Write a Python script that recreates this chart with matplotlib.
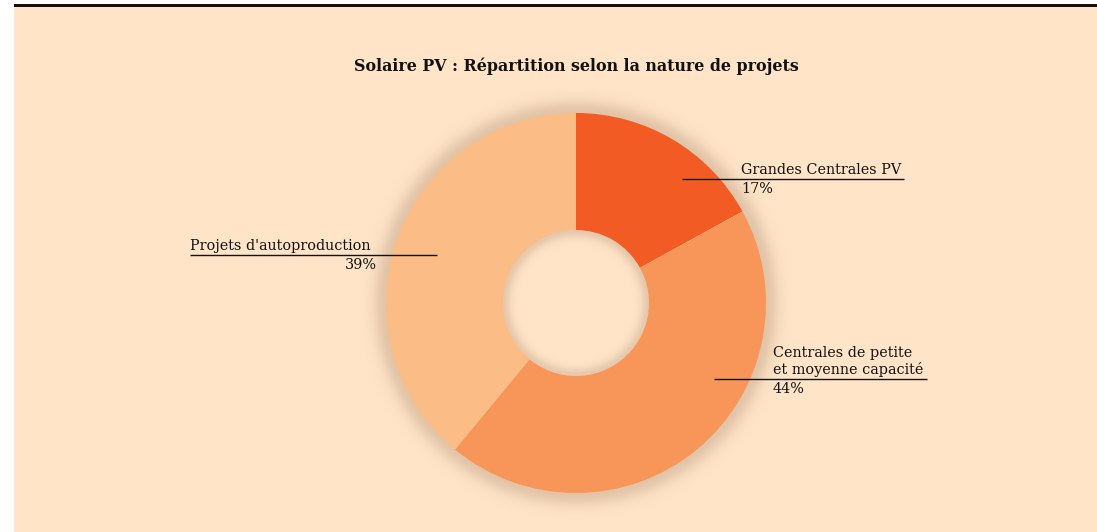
import numpy as np
import matplotlib
matplotlib.use("Agg")
import matplotlib.pyplot as plt
from matplotlib.patches import Rectangle

# ---- data ----
categories = ["Grandes Centrales PV", "Centrales de petite\net moyenne capacité", "Projets d'autoproduction"]
shares = [17, 44, 39]
pct_labels = ["17%", "44%", "39%"]
colors = ["#F25C24", "#F8965A", "#FBBC86"]
title = "Solaire PV : Répartition selon la nature de projets"

W, H = 1097, 532
BG = "#FFE4C8"
fig = plt.figure(figsize=(W / 100, H / 100), dpi=100)
fig.patch.set_facecolor("white")

ax = fig.add_axes([0, 0, 1, 1])
ax.set_xlim(0, W)
ax.set_ylim(0, H)
ax.set_axis_off()

def Y(yp):
    return H - yp

# background panel + top rule
ax.add_patch(Rectangle((14, 0), W - 14, Y(7), facecolor=BG, edgecolor="none", zorder=0))
ax.add_patch(Rectangle((14, Y(7)), W - 14, 3, facecolor="#111111", edgecolor="none", zorder=1))

cx, cy = 576, Y(303)
R_out, R_in = 190, 73

# soft shadows
xx, yy = np.meshgrid(np.arange(W) + 0.5, np.arange(H) + 0.5)
rr = np.hypot(xx - cx, (H - yy) - cy)
alpha = np.zeros_like(rr)
d_out = rr - R_out
m = d_out > -1
alpha[m] = 0.30 * np.exp(-(np.clip(d_out[m], 0, None) / 13.0) ** 2)
d_in = R_in - rr
m2 = d_in > -1
alpha[m2] = 0.26 * np.exp(-(np.clip(d_in[m2], 0, None) / 8.0) ** 2)
shadow = np.zeros((H, W, 4))
shadow[..., 0] = 0.62
shadow[..., 1] = 0.48
shadow[..., 2] = 0.36
shadow[..., 3] = alpha
ax.imshow(shadow, extent=(0, W, 0, H), origin="upper", zorder=2, interpolation="bilinear")

wedges, _ = ax.pie(shares, colors=colors, startangle=90, counterclock=False,
                   center=(cx, cy), radius=R_out,
                   wedgeprops=dict(width=R_out - R_in, edgecolor="none", linewidth=0),
                   frame=True)
for w in wedges:
    w.set_zorder(3)
ax.set_xlim(0, W)
ax.set_ylim(0, H)
ax.set_aspect("auto")
ax.set_axis_off()

serif = ["DejaVu Serif"]
ax.text(576, Y(66), title, ha="center", va="center", fontsize=11.4,
        fontweight="bold", family=serif, color="#111111", zorder=5)

# label layout: (anchor angle deg, anchor radius, line far-end x, text x)
layout = [
    (49.5, 163, 904, 741),
    (-28.8, 157, 927, 773),
    (160.9, 147, 190, 190),
]
fs = 10.4
for i, (ang, r, xend, tx) in enumerate(layout):
    ax0 = cx + r * np.cos(np.radians(ang))
    ay0 = cy + r * np.sin(np.radians(ang))
    ax.plot([ax0, xend], [ay0, ay0], color="#111111", lw=1.0, zorder=5,
            solid_capstyle="butt")
    ax.text(tx, ay0 + 2, categories[i], ha="left", va="bottom", fontsize=fs,
            family=serif, color="#111111", linespacing=1.1, zorder=5)
    if i == 2:
        ax.text(377, ay0 - 3, pct_labels[i], ha="right", va="top", fontsize=fs,
                family=serif, color="#111111", zorder=5)
    else:
        ax.text(tx, ay0 - 3, pct_labels[i], ha="left", va="top", fontsize=fs,
                family=serif, color="#111111", zorder=5)

fig.savefig("out.png", dpi=100, facecolor=fig.get_facecolor())
